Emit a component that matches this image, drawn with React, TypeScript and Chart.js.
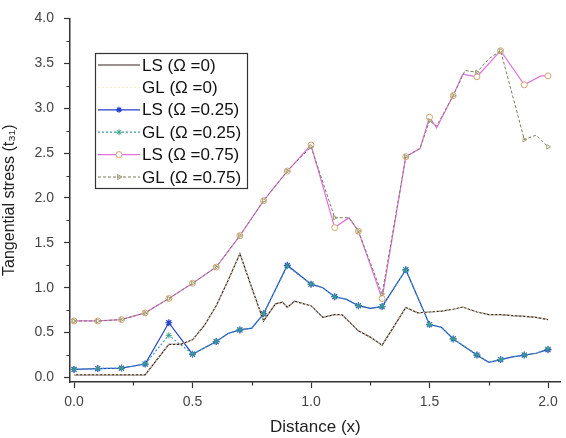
import React, { useEffect, useRef } from "react";
import { Chart, registerables } from "chart.js";
import { drawPoint } from "chart.js/helpers";

Chart.register(...registerables);

// ---- data ----
const seriesLabels = [
  "LS (Ω =0)",
  "GL (Ω =0)",
  "LS (Ω =0.25)",
  "GL (Ω =0.25)",
  "LS (Ω =0.75)",
  "GL (Ω =0.75)",
];

const ls0X = [0, 0.1, 0.2, 0.3, 0.4, 0.45, 0.5, 0.55, 0.6, 0.65, 0.7, 0.75, 0.8, 0.85, 0.88, 0.9, 0.93, 0.97, 1.0, 1.05, 1.1, 1.13, 1.2, 1.25, 1.3, 1.35, 1.4, 1.45, 1.5, 1.55, 1.6, 1.64, 1.7, 1.75, 1.8, 1.85, 1.9, 1.95, 2.0];
const ls0Y = [0.03, 0.03, 0.03, 0.03, 0.37, 0.37, 0.42, 0.58, 0.8, 1.08, 1.38, 1.0, 0.63, 0.82, 0.84, 0.78, 0.85, 0.82, 0.8, 0.67, 0.7, 0.7, 0.52, 0.45, 0.36, 0.57, 0.78, 0.72, 0.73, 0.74, 0.76, 0.785, 0.73, 0.7, 0.7, 0.69, 0.68, 0.67, 0.645];

const gl0X = [0, 0.1, 0.2, 0.3, 0.4, 0.45, 0.5, 0.55, 0.6, 0.65, 0.7, 0.75, 0.8, 0.85, 0.88, 0.9, 0.93, 0.97, 1.0, 1.05, 1.1, 1.13, 1.2, 1.25, 1.3, 1.35, 1.4, 1.45, 1.5, 1.55, 1.6, 1.64, 1.7, 1.75, 1.8, 1.85, 1.9, 1.95, 2.0];
const gl0Y = [0.03, 0.03, 0.03, 0.03, 0.37, 0.37, 0.42, 0.58, 0.8, 1.08, 1.38, 1.0, 0.63, 0.82, 0.84, 0.78, 0.85, 0.82, 0.8, 0.67, 0.7, 0.7, 0.52, 0.45, 0.36, 0.57, 0.78, 0.72, 0.73, 0.74, 0.76, 0.785, 0.73, 0.7, 0.7, 0.69, 0.68, 0.67, 0.645];

const ls25X = [0, 0.1, 0.2, 0.3, 0.4, 0.5, 0.6, 0.65, 0.7, 0.75, 0.8, 0.9, 1.0, 1.05, 1.1, 1.15, 1.2, 1.25, 1.3, 1.4, 1.5, 1.55, 1.6, 1.65, 1.7, 1.75, 1.8, 1.85, 1.9, 1.95, 2.0];
const ls25Y = [0.09, 0.1, 0.105, 0.15, 0.61, 0.26, 0.4, 0.49, 0.53, 0.55, 0.71, 1.25, 1.04, 1.0, 0.9, 0.87, 0.8, 0.77, 0.79, 1.2, 0.59, 0.56, 0.43, 0.34, 0.25, 0.17, 0.2, 0.23, 0.25, 0.27, 0.31];

const gl25X = [0, 0.1, 0.2, 0.3, 0.4, 0.5, 0.6, 0.65, 0.7, 0.75, 0.8, 0.9, 1.0, 1.05, 1.1, 1.15, 1.2, 1.25, 1.3, 1.4, 1.5, 1.55, 1.6, 1.65, 1.7, 1.75, 1.8, 1.85, 1.9, 1.95, 2.0];
const gl25Y = [0.09, 0.1, 0.105, 0.15, 0.47, 0.26, 0.4, 0.49, 0.53, 0.55, 0.71, 1.24, 1.04, 1.0, 0.9, 0.87, 0.8, 0.77, 0.79, 1.2, 0.59, 0.56, 0.43, 0.34, 0.25, 0.17, 0.2, 0.23, 0.25, 0.27, 0.32];

const ls75X = [0, 0.1, 0.2, 0.3, 0.4, 0.5, 0.6, 0.7, 0.8, 0.9, 1.0, 1.1, 1.16, 1.2, 1.3, 1.4, 1.46, 1.5, 1.53, 1.6, 1.64, 1.7, 1.8, 1.9, 1.97, 2.0];
const ls75Y = [0.63, 0.63, 0.645, 0.72, 0.88, 1.05, 1.23, 1.58, 1.97, 2.3, 2.59, 1.67, 1.78, 1.63, 0.88, 2.46, 2.55, 2.9, 2.78, 3.14, 3.38, 3.35, 3.64, 3.26, 3.36, 3.36];

const gl75X = [0, 0.1, 0.2, 0.3, 0.4, 0.5, 0.6, 0.7, 0.8, 0.9, 1.0, 1.1, 1.16, 1.2, 1.3, 1.4, 1.46, 1.5, 1.53, 1.6, 1.65, 1.7, 1.75, 1.8, 1.9, 1.95, 2.0];
const gl75Y = [0.63, 0.63, 0.645, 0.72, 0.88, 1.05, 1.23, 1.58, 1.97, 2.3, 2.57, 1.78, 1.78, 1.63, 0.93, 2.46, 2.55, 2.86, 2.8, 3.14, 3.42, 3.4, 3.55, 3.64, 2.65, 2.7, 2.57];

const xMajorTicks = [0, 0.5, 1.0, 1.5, 2.0];
const yMajorTicks = [0, 0.5, 1.0, 1.5, 2.0, 2.5, 3.0, 3.5, 4.0];

const FONT = "'Liberation Sans', Arial, sans-serif";

const toPts = (xs: number[], ys: number[]) => xs.map((x, i) => ({ x, y: ys[i] }));
const isTenth = (x: number) => Math.abs(x * 10 - Math.round(x * 10)) < 1e-6;

const markerRadius = (r: number) => (ctx: any) => (ctx.raw && isTenth(ctx.raw.x) ? r : 0);

const minorTickPlugin = {
  id: "minorTicks",
  afterDraw(chart: any) {
    const { ctx, chartArea, scales } = chart;
    ctx.save();
    ctx.strokeStyle = "#333";
    ctx.lineWidth = 1.2;
    ctx.beginPath();
    for (let i = 0; i < xMajorTicks.length - 1; i++) {
      const v = (xMajorTicks[i] + xMajorTicks[i + 1]) / 2;
      const px = Math.round(scales.x.getPixelForValue(v)) + 0.5;
      ctx.moveTo(px, chartArea.bottom);
      ctx.lineTo(px, chartArea.bottom + 3.5);
    }
    for (let i = 0; i < yMajorTicks.length - 1; i++) {
      const v = (yMajorTicks[i] + yMajorTicks[i + 1]) / 2;
      const py = Math.round(scales.y.getPixelForValue(v)) + 0.5;
      ctx.moveTo(chartArea.left, py);
      ctx.lineTo(chartArea.left - 3.5, py);
    }
    ctx.stroke();
    ctx.restore();
  },
};

const boxLegendPlugin = {
  id: "boxLegend",
  afterDraw(chart: any) {
    const ctx = chart.ctx;
    const left = 95;
    const top = 53;
    const w = 152;
    const h = 135;
    ctx.save();
    ctx.fillStyle = "#ffffff";
    ctx.fillRect(left, top, w, h);
    ctx.strokeStyle = "#333";
    ctx.lineWidth = 1.2;
    ctx.setLineDash([]);
    ctx.strokeRect(left + 0.5, top + 0.5, w, h);
    chart.data.datasets.forEach((ds: any, i: number) => {
      const y = top + 12 + i * 22.4;
      ctx.save();
      ctx.strokeStyle = ds.borderColor;
      ctx.lineWidth = ds.borderWidth;
      ctx.setLineDash(ds.borderDash || []);
      ctx.beginPath();
      ctx.moveTo(left + 3, y);
      ctx.lineTo(left + 45, y);
      ctx.stroke();
      ctx.setLineDash([]);
      if (ds.legendMarker) {
        ctx.strokeStyle = ds.pointBorderColor;
        ctx.fillStyle = ds.pointBackgroundColor;
        ctx.lineWidth = ds.pointBorderWidth || 1;
        drawPoint(
          ctx,
          { pointStyle: ds.pointStyle, rotation: ds.pointRotation || 0, radius: 3, borderWidth: ds.pointBorderWidth || 1 },
          left + 24,
          y
        );
      }
      ctx.restore();
      ctx.fillStyle = "#111";
      ctx.font = `17px ${FONT}`;
      ctx.textBaseline = "middle";
      ctx.textAlign = "left";
      ctx.fillText(ds.label, left + 47, y + 1);
    });
    ctx.restore();
  },
};

export default function App() {
  const canvasRef = useRef<HTMLCanvasElement | null>(null);

  useEffect(() => {
    if (!canvasRef.current) return;
    const common = { tension: 0, fill: false };
    const chart = new Chart(canvasRef.current, {
      type: "line",
      data: {
        datasets: [
          {
            ...common,
            label: seriesLabels[0],
            data: toPts(ls0X, ls0Y),
            borderColor: "#3a2020",
            borderWidth: 1.2,
            pointRadius: 0,
            legendMarker: false,
            order: 2,
          } as any,
          {
            ...common,
            label: seriesLabels[1],
            data: toPts(gl0X, gl0Y),
            borderColor: "#f2eec4",
            borderWidth: 1,
            borderDash: [2, 2],
            pointRadius: 0,
            legendMarker: false,
            order: 1,
          } as any,
          {
            ...common,
            label: seriesLabels[2],
            data: toPts(ls25X, ls25Y),
            borderColor: "#2340c8",
            borderWidth: 1.2,
            pointStyle: "star",
            pointRadius: markerRadius(3.5),
            pointBorderColor: "#2340c8",
            pointBackgroundColor: "#2340c8",
            pointBorderWidth: 1.2,
            legendMarker: true,
            order: 4,
          } as any,
          {
            ...common,
            label: seriesLabels[3],
            data: toPts(gl25X, gl25Y),
            borderColor: "#3a9cb0",
            borderWidth: 1.2,
            borderDash: [2, 2],
            pointStyle: "star",
            pointRadius: markerRadius(3),
            pointBorderColor: "#38a08c",
            pointBackgroundColor: "#38a08c",
            pointBorderWidth: 1,
            legendMarker: true,
            order: 3,
          } as any,
          {
            ...common,
            label: seriesLabels[4],
            data: toPts(ls75X, ls75Y),
            borderColor: "#e070e0",
            borderWidth: 1.2,
            pointStyle: "circle",
            pointRadius: markerRadius(3),
            pointBorderColor: "#d8a070",
            pointBackgroundColor: "#ffffff",
            pointBorderWidth: 1,
            legendMarker: true,
            order: 6,
          } as any,
          {
            ...common,
            label: seriesLabels[5],
            data: toPts(gl75X, gl75Y),
            borderColor: "#7a7a60",
            borderWidth: 1,
            borderDash: [3, 2],
            pointStyle: "triangle",
            pointRotation: 90,
            pointRadius: markerRadius(2.5),
            pointBorderColor: "#a0a070",
            pointBackgroundColor: "rgba(255,255,255,0)",
            pointBorderWidth: 1,
            legendMarker: true,
            order: 5,
          } as any,
        ],
      },
      options: {
        animation: false,
        responsive: true,
        maintainAspectRatio: false,
        layout: { padding: { top: 16, right: 0, left: 0, bottom: 0 } },
        plugins: {
          legend: { display: false },
          tooltip: { enabled: false },
        },
        scales: {
          x: {
            type: "linear",
            min: -0.017,
            max: 2.054,
            afterFit: (scale: any) => {
              scale.height = 56;
            },
            afterBuildTicks: (scale: any) => {
              scale.ticks = xMajorTicks.map((v) => ({ value: v }));
            },
            ticks: {
              color: "#444",
              font: { size: 14, family: FONT },
              padding: 6,
              maxRotation: 0,
              callback: (v: any) => Number(v).toFixed(1),
            },
            grid: { display: true, drawOnChartArea: false, drawTicks: true, tickLength: 6, tickColor: "#333", tickWidth: 1.2 },
            border: { display: true, color: "#333", width: 1.5 },
            title: {
              display: true,
              text: "Distance (x)",
              color: "#222",
              font: { size: 17, family: FONT },
              padding: { top: 2, bottom: 0 },
            },
          },
          y: {
            type: "linear",
            min: -0.05,
            max: 4.0,
            afterFit: (scale: any) => {
              scale.width = 70;
            },
            afterBuildTicks: (scale: any) => {
              scale.ticks = yMajorTicks.map((v) => ({ value: v }));
            },
            ticks: {
              color: "#444",
              font: { size: 14, family: FONT },
              padding: 10,
              callback: (v: any) => Number(v).toFixed(1),
            },
            grid: { display: true, drawOnChartArea: false, drawTicks: true, tickLength: 6, tickColor: "#333", tickWidth: 1.2 },
            border: { display: true, color: "#333", width: 1.5 },
            title: {
              display: true,
              text: "Tangential stress (t₃₁)",
              color: "#222",
              font: { size: 16, family: FONT },
              padding: { top: 0, bottom: 4 },
            },
          },
        },
      } as any,
      plugins: [minorTickPlugin, boxLegendPlugin],
    });
    return () => chart.destroy();
  }, []);

  return (
    <div style={{ position: "fixed", left: 0, top: 0, width: 566, height: 438, background: "#fff" }}>
      <canvas ref={canvasRef} />
    </div>
  );
}
